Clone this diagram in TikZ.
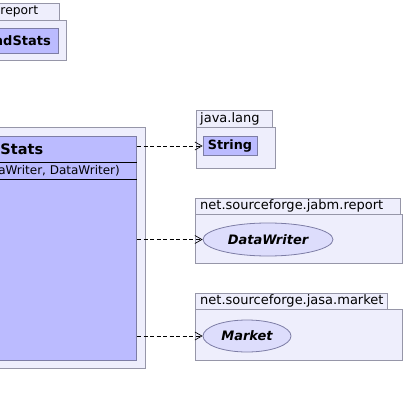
\documentclass[tikz,border=0pt]{standalone}
\usepackage{fontspec}
\setmainfont{DejaVu Sans}
\usetikzlibrary{arrows.meta,shapes.geometric}
\definecolor{pkgfill}{RGB}{238,238,252}
\definecolor{pkgline}{RGB}{150,150,168}
\definecolor{clsfill}{RGB}{187,187,255}
\definecolor{clsline}{RGB}{125,125,165}
\definecolor{ifill}{RGB}{221,221,252}
\tikzset{
  pkg/.style={draw=pkgline, fill=pkgfill, line width=0.8pt},
  cls/.style={draw=clsline, fill=clsfill, line width=0.8pt},
  plabel/.style={inner sep=0pt, font=\fontsize{13}{15}\selectfont},
  clsbox/.style={cls, rectangle, inner sep=0pt, font=\bfseries\fontsize{12.8}{15}\selectfont},
  iface/.style={ellipse, draw=clsline, fill=ifill, line width=0.8pt, inner sep=0pt, font=\bfseries\itshape\fontsize{13}{15}\selectfont},
  dep/.style={dashed, dash pattern=on 4pt off 2.5pt, line width=0.7pt, -{Straight Barb[length=7pt,width=8pt]}}
}
\begin{document}
\begin{tikzpicture}[x=1pt,y=-1pt]
\useasboundingbox (0,0) rectangle (404,406);
\clip (0,0) rectangle (404,406);
% top-left package
\draw[pkg] (-60,3) rectangle (59,20);
\draw[pkg] (-60,20) rectangle (66,60);
\node[plabel, anchor=west, font=\fontsize{12.3}{15}\selectfont] (tlp) at (0.3,11.5) {report};
\draw[cls] (-60,28) rectangle (58,53);
\node[inner sep=0pt, anchor=east, font=\bfseries\fontsize{13}{15}\selectfont] (tlc) at (51,40.5) {ndStats};
% main package and class
\draw[pkg] (-60,127) rectangle (145,368);
\node[cls, rectangle, inner sep=0pt, minimum width=197pt, minimum height=224pt, anchor=north east] (cls) at (137,136) {};
\draw[line width=0.8pt] (-60,162) -- (137,162);
\draw[line width=0.8pt] (-60,179) -- (137,179);
\node[inner sep=0pt, anchor=west, font=\bfseries\fontsize{14.5}{17}\selectfont] (clsname) at (0.3,149) {Stats};
\node[inner sep=0pt, anchor=east, font=\fontsize{12}{14}\selectfont] (ctor) at (120,170.5) {aWriter, DataWriter)};
% java.lang
\draw[pkg] (196,110.5) rectangle (272,127);
\draw[pkg] (196,127) rectangle (275,168);
\node[plabel, anchor=west] (jl) at (200,118.5) {java.lang};
\node[clsbox, minimum width=54pt, minimum height=19pt] (str) at (230,146) {String};
% jabm.report
\draw[pkg] (195,198) rectangle (400,214);
\draw[pkg] (195,214) rectangle (402,263);
\node[plabel, anchor=west] (jr) at (200,206) {net.sourceforge.jabm.report};
\node[iface, minimum width=130pt, minimum height=33pt] (dw) at (268,239.5) {DataWriter};
% jasa.market
\draw[pkg] (195,293) rectangle (387,309);
\draw[pkg] (195,309) rectangle (402,360);
\node[plabel, anchor=west] (jm) at (200,301) {net.sourceforge.jasa.market};
\node[iface, minimum width=88pt, minimum height=32pt] (mk) at (247,336) {Market};
% dependencies
\draw[dep] (cls.east |- str.west) -- (str.west);
\draw[dep] (cls.east |- dw.west) -- (dw.west);
\draw[dep] (cls.east |- mk.west) -- (mk.west);
\end{tikzpicture}
\end{document}
